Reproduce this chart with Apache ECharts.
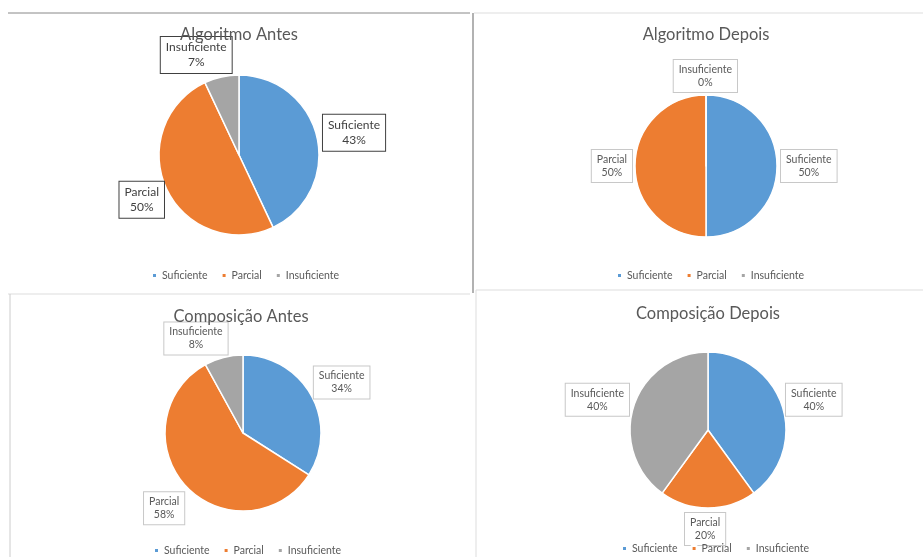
<!DOCTYPE html>
<html><head><meta charset="utf-8">
<script src="https://cdn.jsdelivr.net/npm/echarts@6/dist/echarts.min.js"></script>
<style>html,body{margin:0;padding:0;background:#fff}#c{width:923px;height:557px}</style>
</head><body><div id="c"></div>
<script>
const categories = ['Suficiente', 'Parcial', 'Insuficiente'];
const algoritmoAntes = [43, 50, 7];
const algoritmoDepois = [50, 50, 0];
const composicaoAntes = [34, 58, 8];
const composicaoDepois = [40, 20, 40];
const chartTitles = ['Algoritmo Antes', 'Algoritmo Depois', 'Composição Antes', 'Composição Depois'];
const colors = ['#5B9BD5', '#ED7D31', '#A5A5A5'];

// label nudges (dx, dy) relative to the library's outside-label placement, per slice
const panels = [
  {values: algoritmoAntes, center: [239, 155], r: 80, title: [234, 21], legend: [146, 265], lblColor: '#404040', lblBorder: '#404040', lblSize: 12, lh: 15,
   nudge: [[-3, -4], [6, 9], [16, -18]]},
  {values: algoritmoDepois, center: [706, 166], r: 71, title: [701, 21], legend: [611, 265], lblColor: '#595959', lblBorder: '#c8c8c8', lblSize: 10.5, lh: 13,
   nudge: [[-5, 0], [6, 0], [36, -15]]},
  {values: composicaoAntes, center: [243, 433], r: 78, title: [236, 303], legend: [148, 540], lblColor: '#595959', lblBorder: '#c8c8c8', lblSize: 10.5, lh: 13,
   nudge: [[-6, -11], [6, 19], [10, -15]]},
  {values: composicaoDepois, center: [708, 430], r: 78, title: [703, 300], legend: [616, 538], lblColor: '#595959', lblBorder: '#c8c8c8', lblSize: 10.5, lh: 13,
   nudge: [[-5, -5], [-28, 17], [4, -5]]}
];

const font = 'Lato, "Open Sans", sans-serif';
const chart = echarts.init(document.getElementById('c'), null, {renderer: 'canvas'});

const option = {
  backgroundColor: '#fff',
  color: colors,
  animation: false,
  title: panels.map((p, i) => ({
    text: chartTitles[i], left: p.title[0], top: p.title[1], textAlign: 'center',
    textStyle: {fontFamily: font, fontSize: 16.5, fontWeight: 'normal', color: '#595959'}
  })),
  legend: panels.map((p) => ({
    data: categories, left: p.legend[0], top: p.legend[1], orient: 'horizontal',
    icon: 'rect', itemWidth: 5, itemHeight: 5, itemGap: 13, selectedMode: false,
    textStyle: {fontFamily: font, fontSize: 10.5, color: '#595959'}
  })),
  series: panels.map((p) => ({
    type: 'pie',
    center: p.center,
    radius: p.r,
    startAngle: 90,
    clockwise: true,
    avoidLabelOverlap: false,
    itemStyle: {borderColor: '#fff', borderWidth: 1.5},
    label: {
      show: true, position: 'outside',
      formatter: (d) => d.name + '\n' + d.value + '%',
      fontFamily: font, fontSize: p.lblSize, color: p.lblColor, lineHeight: p.lh,
      backgroundColor: '#fff', borderColor: p.lblBorder, borderWidth: 1, padding: [3, 5]
    },
    labelLine: {show: false, length: 4, length2: 0},
    labelLayout: (params) => {
      const n = p.nudge[params.dataIndex];
      const lr = params.labelRect;
      return {
        x: lr.x + lr.width / 2 + n[0],
        y: lr.y + lr.height / 2 + n[1],
        align: 'center', verticalAlign: 'middle'
      };
    },
    emphasis: {disabled: true},
    data: categories.map((c, k) => ({name: c, value: p.values[k]}))
  })),
  graphic: [
    {type: 'line', shape: {x1: 8, y1: 13, x2: 470, y2: 13}, style: {stroke: '#888', lineWidth: 1}},
    {type: 'line', shape: {x1: 474, y1: 13, x2: 923, y2: 13}, style: {stroke: '#ddd', lineWidth: 1}},
    {type: 'line', shape: {x1: 473, y1: 13, x2: 473, y2: 293}, style: {stroke: '#999', lineWidth: 1.5}},
    {type: 'line', shape: {x1: 8, y1: 294, x2: 470, y2: 294}, style: {stroke: '#ddd', lineWidth: 1}},
    {type: 'line', shape: {x1: 476, y1: 290, x2: 923, y2: 290}, style: {stroke: '#ddd', lineWidth: 1}},
    {type: 'line', shape: {x1: 10, y1: 294, x2: 10, y2: 557}, style: {stroke: '#ccc', lineWidth: 1}},
    {type: 'line', shape: {x1: 476, y1: 290, x2: 476, y2: 557}, style: {stroke: '#ddd', lineWidth: 1}}
  ]
};
chart.setOption(option);
</script>
</body></html>
